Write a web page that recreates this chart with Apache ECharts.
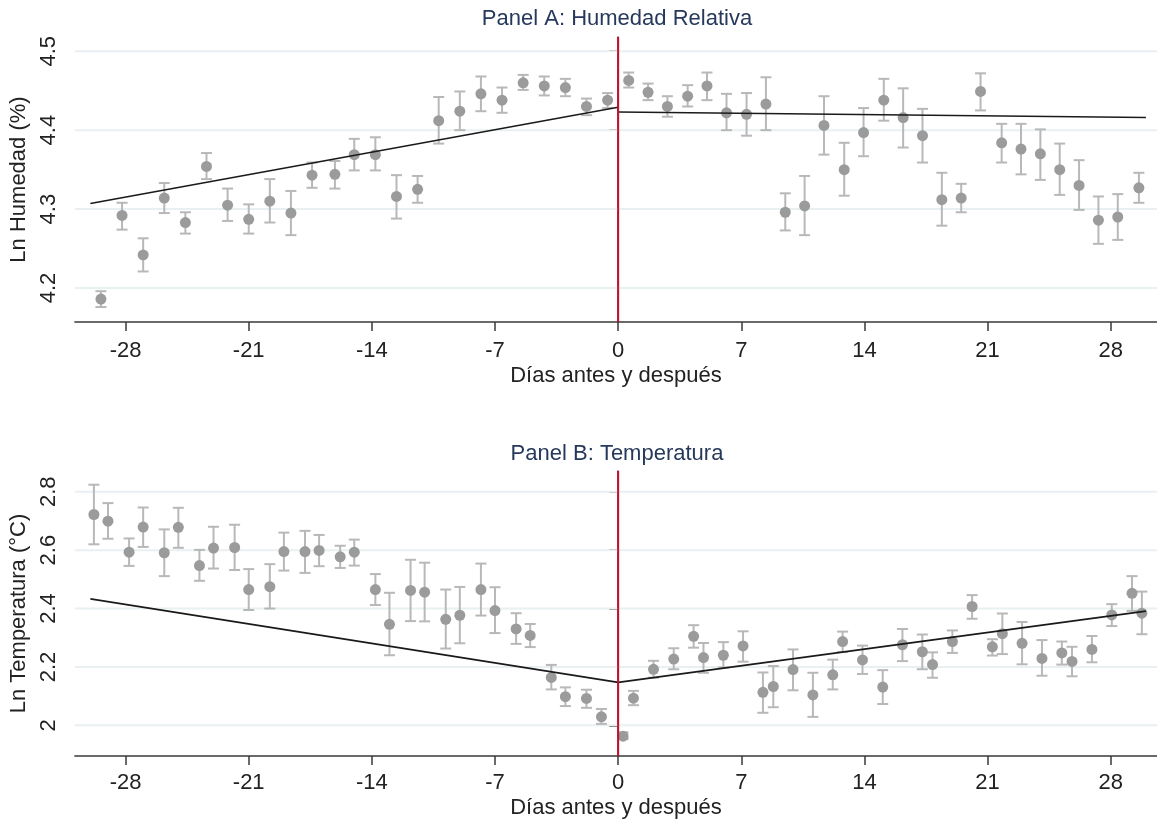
<!DOCTYPE html>
<html><head><meta charset="utf-8">
<script src="https://cdn.jsdelivr.net/npm/echarts@6/dist/echarts.min.js"></script>
<style>html,body{margin:0;padding:0;background:#fff}#c{width:1157px;height:822px}</style>
</head><body><div id="c"></div>
<script>
// ---- tick labels ----
const xTicks = [-28, -21, -14, -7, 0, 7, 14, 21, 28];
const humTicks = [4.2, 4.3, 4.4, 4.5];
const tempTicks = [2.0, 2.2, 2.4, 2.6, 2.8];

// ---- Panel A: Humedad relativa ----
const humDays = [-29.4,-28.2,-27.0,-25.8,-24.6,-23.4,-22.2,-21.0,-19.8,-18.6,-17.4,-16.1,-15.0,-13.8,-12.6,-11.4,-10.2,-9.0,-7.8,-6.6,-5.4,-4.2,-3.0,-1.8,-0.6,
  0.6,1.7,2.8,3.95,5.05,6.16,7.3,8.4,9.5,10.6,11.7,12.85,13.95,15.1,16.2,17.3,18.4,19.5,20.6,21.8,22.9,24.0,25.1,26.2,27.3,28.4,29.6];
const humMean = [4.186,4.292,4.242,4.314,4.283,4.354,4.305,4.287,4.310,4.295,4.343,4.344,4.369,4.369,4.316,4.325,4.412,4.424,4.446,4.438,4.460,4.456,4.454,4.430,4.438,
  4.463,4.448,4.430,4.443,4.456,4.422,4.420,4.433,4.296,4.304,4.406,4.350,4.397,4.438,4.416,4.393,4.312,4.314,4.449,4.384,4.376,4.370,4.350,4.330,4.286,4.290,4.327];
const humLow = [4.176,4.274,4.221,4.295,4.269,4.338,4.285,4.269,4.283,4.267,4.327,4.326,4.349,4.349,4.288,4.308,4.383,4.400,4.424,4.422,4.451,4.444,4.443,4.419,4.428,
  4.454,4.438,4.417,4.430,4.438,4.400,4.393,4.400,4.273,4.267,4.369,4.317,4.367,4.412,4.378,4.359,4.279,4.296,4.425,4.359,4.344,4.337,4.318,4.299,4.256,4.261,4.308];
const humHigh = [4.196,4.308,4.263,4.333,4.296,4.371,4.326,4.306,4.338,4.323,4.359,4.361,4.389,4.391,4.343,4.342,4.442,4.449,4.468,4.454,4.470,4.468,4.465,4.440,4.447,
  4.473,4.459,4.443,4.457,4.473,4.446,4.447,4.467,4.320,4.342,4.443,4.384,4.428,4.465,4.453,4.427,4.346,4.332,4.472,4.408,4.408,4.401,4.383,4.362,4.316,4.319,4.346];
const humFitPreX = [-30, 0];
const humFitPreY = [4.307, 4.429];
const humFitPostX = [0, 30];
const humFitPostY = [4.423, 4.416];

// ---- Panel B: Temperatura ----
const tempDays = [-29.8,-29.0,-27.8,-27.0,-25.8,-25.0,-23.8,-23.0,-21.8,-21.0,-19.8,-19.0,-17.8,-17.0,-15.8,-15.0,-13.8,-13.0,-11.8,-11.0,-9.8,-9.0,-7.8,-7.0,-5.8,-5.0,-3.8,-3.0,-1.8,-0.95,
  0.28,0.87,2.01,3.16,4.29,4.85,5.98,7.10,8.23,8.82,9.94,11.07,12.2,12.76,13.89,15.04,16.16,17.29,17.87,19.0,20.12,21.27,21.84,22.96,24.09,25.22,25.8,26.93,28.06,29.21,29.77];
const tempMean = [2.722,2.699,2.593,2.679,2.591,2.678,2.547,2.607,2.609,2.465,2.475,2.595,2.595,2.599,2.577,2.593,2.465,2.346,2.462,2.456,2.363,2.377,2.465,2.393,2.330,2.308,2.164,2.098,2.092,2.029,
  1.963,2.093,2.192,2.227,2.305,2.232,2.240,2.272,2.113,2.133,2.191,2.104,2.173,2.287,2.224,2.131,2.276,2.252,2.208,2.287,2.407,2.269,2.314,2.281,2.229,2.248,2.219,2.260,2.378,2.452,2.384];
const tempLow = [2.620,2.639,2.546,2.611,2.511,2.608,2.495,2.537,2.532,2.395,2.400,2.530,2.522,2.545,2.539,2.547,2.412,2.240,2.357,2.356,2.263,2.281,2.376,2.316,2.279,2.268,2.123,2.066,2.060,2.005,
  1.953,2.069,2.163,2.192,2.266,2.180,2.198,2.218,2.043,2.062,2.120,2.029,2.123,2.251,2.176,2.073,2.220,2.192,2.163,2.248,2.365,2.239,2.244,2.209,2.170,2.208,2.168,2.216,2.340,2.392,2.312];
const tempHigh = [2.824,2.761,2.640,2.746,2.671,2.745,2.601,2.680,2.687,2.535,2.552,2.660,2.666,2.652,2.615,2.636,2.518,2.454,2.567,2.557,2.465,2.474,2.554,2.473,2.384,2.347,2.207,2.130,2.122,2.056,
  1.976,2.118,2.221,2.264,2.343,2.282,2.285,2.322,2.181,2.203,2.260,2.180,2.225,2.321,2.273,2.189,2.330,2.311,2.250,2.325,2.446,2.295,2.383,2.354,2.292,2.287,2.269,2.306,2.415,2.511,2.458];
const tempFitPreX = [-30, 0];
const tempFitPreY = [2.433, 2.147];
const tempFitPostX = [0, 30];
const tempFitPostY = [2.147, 2.391];

// ---- build ----
const FONT = 'Liberation Sans, Arial, sans-serif';
const TXT = '#222';
const AX = '#3a3a3a';
const zip = (a, b) => a.map((v, i) => [v, b[i]]);
const zip3 = (a, b, c) => a.map((v, i) => [v, b[i], c[i]]);

function errRender(params, api) {
  const x = api.value(0), lo = api.value(1), hi = api.value(2);
  const pLo = api.coord([x, lo]), pHi = api.coord([x, hi]);
  const w = 5.5;
  const st = { stroke: '#b8b8b8', lineWidth: 2 };
  return { type: 'group', children: [
    { type: 'line', shape: { x1: pLo[0], y1: pLo[1], x2: pHi[0], y2: pHi[1] }, style: st },
    { type: 'line', shape: { x1: pLo[0] - w, y1: pLo[1], x2: pLo[0] + w, y2: pLo[1] }, style: st },
    { type: 'line', shape: { x1: pHi[0] - w, y1: pHi[1], x2: pHi[0] + w, y2: pHi[1] }, style: st }
  ]};
}
function gridRender(params, api) {
  const p = api.coord([0, api.value(1)]);
  const cs = params.coordSys;
  return { type: 'line', shape: { x1: cs.x, y1: p[1], x2: cs.x + cs.width, y2: p[1] },
    style: { stroke: '#e8f0f2', lineWidth: 2 } };
}
function vRender(params, api) {
  const p = api.coord([api.value(0), api.value(1)]);
  const cs = params.coordSys;
  return { type: 'line', shape: { x1: p[0], y1: cs.y, x2: p[0], y2: cs.y + cs.height },
    style: { stroke: '#c8102e', lineWidth: 2 } };
}

function xAx(gi, margin, gap) {
  return { type: 'value', gridIndex: gi, min: -30.88, max: 30.63,
    axisLine: { show: true, onZero: false, lineStyle: { color: AX, width: 1.5 } },
    axisTick: { show: true, customValues: xTicks, length: 9, lineStyle: { color: AX, width: 1.5 } },
    axisLabel: { customValues: xTicks, fontSize: 22, color: TXT, margin: margin, fontFamily: FONT },
    splitLine: { show: false },
    name: 'Días antes y después', nameLocation: 'middle', nameGap: gap,
    nameTextStyle: { fontSize: 22, color: TXT, fontFamily: FONT } };
}
function yAx(gi, min, max, ticks, name) {
  return { type: 'value', gridIndex: gi, min: min, max: max,
    axisLine: { show: true, lineStyle: { color: AX, width: 1.5 } },
    axisTick: { show: true, customValues: ticks, length: 9, lineStyle: { color: AX, width: 1.5 } },
    axisLabel: { customValues: ticks, rotate: 90, fontSize: 22, color: TXT, margin: 15, fontFamily: FONT },
    splitLine: { show: false },
    name: name, nameLocation: 'middle', nameGap: 35,
    nameTextStyle: { fontSize: 22, color: TXT, fontFamily: FONT } };
}

function panelSeries(gi, ticks, days, mean, low, high, fx1, fy1, fx2, fy2) {
  return [
    { type: 'custom', xAxisIndex: gi, yAxisIndex: gi, renderItem: gridRender, z: 1, silent: true,
      data: ticks.map(t => [0, t]) },
    { type: 'custom', xAxisIndex: gi, yAxisIndex: gi, renderItem: errRender, z: 2, silent: true,
      encode: { x: 0, y: [1, 2] }, data: zip3(days, low, high) },
    { type: 'scatter', xAxisIndex: gi, yAxisIndex: gi, symbolSize: 11, z: 3, silent: true,
      itemStyle: { color: '#9b9b9b', opacity: 1 }, data: zip(days, mean) },
    { type: 'line', xAxisIndex: gi, yAxisIndex: gi, showSymbol: false, z: 4, silent: true,
      lineStyle: { color: '#1a1a1a', width: 1.6 }, data: zip(fx1, fy1) },
    { type: 'line', xAxisIndex: gi, yAxisIndex: gi, showSymbol: false, z: 4, silent: true,
      lineStyle: { color: '#1a1a1a', width: 1.6 }, data: zip(fx2, fy2) },
    { type: 'custom', xAxisIndex: gi, yAxisIndex: gi, renderItem: vRender, z: 5, silent: true,
      data: [[0, ticks[0]]] }
  ];
}

const chart = echarts.init(document.getElementById('c'), null, { renderer: 'canvas' });
chart.setOption({
  animation: false,
  backgroundColor: '#ffffff',
  textStyle: { fontFamily: FONT },
  graphic: [
    { type: 'text', x: 617, y: 19, style: { text: 'Panel A: Humedad Relativa', align: 'center', verticalAlign: 'middle',
      fill: '#26395c', font: '22px ' + FONT } },
    { type: 'text', x: 617, y: 454, style: { text: 'Panel B: Temperatura', align: 'center', verticalAlign: 'middle',
      fill: '#26395c', font: '22px ' + FONT } }
  ],
  grid: [
    { left: 72, right: 0, top: 37, height: 285, containLabel: false },
    { left: 72, right: 0, top: 471, height: 285, containLabel: false }
  ],
  xAxis: [xAx(0, 18, 43), xAx(1, 16, 41)],
  yAxis: [
    yAx(0, 4.157, 4.518, humTicks, 'Ln Humedad (%)'),
    yAx(1, 1.895, 2.871, tempTicks, 'Ln Temperatura (°C)')
  ],
  series: [].concat(
    panelSeries(0, humTicks, humDays, humMean, humLow, humHigh, humFitPreX, humFitPreY, humFitPostX, humFitPostY),
    panelSeries(1, tempTicks, tempDays, tempMean, tempLow, tempHigh, tempFitPreX, tempFitPreY, tempFitPostX, tempFitPostY)
  )
});
</script>
</body></html>
